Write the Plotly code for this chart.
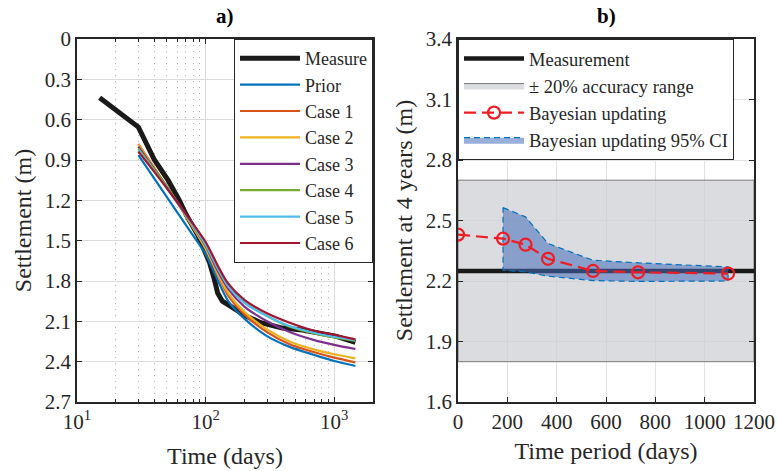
import plotly.graph_objects as go
import numpy as np

# ---------------- Data: panel a) ----------------
meas_t = [15, 30, 40, 51, 62.5, 70, 87, 100, 107, 117, 124, 135, 162, 206, 269, 352, 395, 565, 700, 1023, 1460]
meas_v = [0.437, 0.655, 0.90, 1.05, 1.20, 1.30, 1.46, 1.60, 1.66, 1.79, 1.89, 1.95, 2.00, 2.06, 2.11, 2.14, 2.15, 2.165, 2.18, 2.21, 2.256]

case_t = [30, 50, 75, 100, 125, 150, 200, 300, 450, 700, 1000, 1460]
prior_v = [0.863, 1.176, 1.424, 1.60, 1.80, 1.95, 2.08, 2.21, 2.29, 2.35, 2.395, 2.432]
case1_v = [0.78, 1.10, 1.36, 1.56, 1.76, 1.91, 2.05, 2.18, 2.27, 2.33, 2.37, 2.405]
case2_v = [0.785, 1.10, 1.36, 1.56, 1.75, 1.89, 2.03, 2.16, 2.25, 2.31, 2.345, 2.375]
case3_v = [0.80, 1.10, 1.35, 1.54, 1.73, 1.86, 1.99, 2.10, 2.18, 2.24, 2.275, 2.306]
case4_v = [0.815, 1.10, 1.35, 1.53, 1.71, 1.84, 1.96, 2.06, 2.14, 2.19, 2.22, 2.245]
case5_v = [0.826, 1.11, 1.35, 1.53, 1.71, 1.84, 1.96, 2.06, 2.135, 2.185, 2.215, 2.24]
case6_v = [0.838, 1.11, 1.34, 1.51, 1.69, 1.82, 1.94, 2.04, 2.11, 2.17, 2.20, 2.234]

series_names = ["Prior", "Case 1", "Case 2", "Case 3", "Case 4", "Case 5", "Case 6"]
series_vals = [prior_v, case1_v, case2_v, case3_v, case4_v, case5_v, case6_v]
series_colors = ["#0072BD", "#D95319", "#EDB120", "#7E2F8E", "#77AC30", "#4DBEEE", "#A2142F"]

a_xticks = [10, 100, 1000]
a_xticktext = ["10<sup>1</sup>", "10<sup>2</sup>", "10<sup>3</sup>"]
a_minor = [20, 30, 40, 50, 60, 70, 80, 90, 200, 300, 400, 500, 600, 700, 800, 900]

# ---------------- Data: panel b) ----------------
period = [0, 182.5, 273.75, 365, 547.5, 730, 1095]
bayes_v = [2.43, 2.41, 2.38, 2.31, 2.25, 2.243, 2.237]
ci_t = [182.5, 273.75, 365, 547.5, 730, 1095]
ci_upper = [2.564, 2.518, 2.386, 2.303, 2.29, 2.27]
ci_lower = [2.253, 2.245, 2.224, 2.202, 2.198, 2.20]
measured_4yr = 2.25
accuracy = 0.20
b_xrange = [0, 1200]

FONT = "Liberation Serif"
TXT = "#262626"

fig = go.Figure()

# panel a traces
fig.add_trace(go.Scatter(x=meas_t, y=meas_v, mode="lines", name="Measure",
                         line=dict(color="#1a1a1a", width=5), xaxis="x", yaxis="y", legend="legend"))
for nm, vals, col in zip(series_names, series_vals, series_colors):
    fig.add_trace(go.Scatter(x=case_t, y=vals, mode="lines", name=nm,
                             line=dict(color=col, width=2.2, shape="spline", smoothing=0.8),
                             xaxis="x", yaxis="y", legend="legend"))

# panel b traces
lo = measured_4yr * (1 - accuracy)
hi = measured_4yr * (1 + accuracy)
fig.add_trace(go.Scatter(x=[b_xrange[0], b_xrange[1], b_xrange[1], b_xrange[0], b_xrange[0]],
                         y=[lo, lo, hi, hi, lo], mode="lines", fill="toself",
                         fillcolor="rgba(205,207,211,0.72)", line=dict(color="#7a7a7a", width=1),
                         name="\u00b1 20% accuracy range", xaxis="x2", yaxis="y2",
                         legend="legend2", legendrank=2))
fig.add_trace(go.Scatter(x=b_xrange, y=[measured_4yr, measured_4yr], mode="lines",
                         line=dict(color="#1a1a1a", width=4.5), name="Measurement",
                         xaxis="x2", yaxis="y2", legend="legend2", legendrank=1))
fig.add_trace(go.Scatter(x=ci_t + ci_t[::-1] + [ci_t[0]], y=ci_upper + ci_lower[::-1] + [ci_upper[0]],
                         mode="lines", fill="toself", fillcolor="rgba(70,110,185,0.55)",
                         line=dict(color="#0072BD", width=1.2, dash="6px,4px"),
                         name="Bayesian updating 95% CI", xaxis="x2", yaxis="y2",
                         legend="legend2", legendrank=4))
fig.add_trace(go.Scatter(x=period, y=bayes_v, mode="lines+markers",
                         line=dict(color="#EE1C25", width=2.2, dash="12px,6px"),
                         marker=dict(symbol="circle-open", size=12, color="#EE1C25", line=dict(width=2.2)),
                         name="Bayesian updating", xaxis="x2", yaxis="y2",
                         legend="legend2", legendrank=3))

axcommon = dict(showline=True, linecolor=TXT, linewidth=1.5, mirror="ticks", ticks="inside",
                ticklen=5, tickcolor=TXT, tickwidth=1.2, automargin=False,
                tickfont=dict(family=FONT, size=21, color=TXT), zeroline=False)
TITLEFONT = dict(family=FONT, size=24, color=TXT)

fig.update_layout(
    width=777, height=471, margin=dict(l=0, r=0, t=0, b=0, autoexpand=False),
    paper_bgcolor="white", plot_bgcolor="white",
    font=dict(family=FONT, color=TXT),
    xaxis=dict(domain=[77/777, 373/777], type="log", range=[1, np.log10(2000)],
               tickmode="array", tickvals=a_xticks, ticktext=a_xticktext,
               showgrid=True, gridcolor="#DCDCDC", gridwidth=1,
               minor=dict(tickmode="array", tickvals=a_minor, ticks="inside", ticklen=3,
                          tickcolor=TXT, showgrid=True, gridcolor="#B5B5B5", griddash="1px,5px", gridwidth=1),
               title=dict(text="Time (days)", font=TITLEFONT, standoff=14),
               anchor="y", **axcommon),
    yaxis=dict(domain=[1-402/471, 1-39/471], range=[2.7, 0], tick0=0, dtick=0.3,
               showgrid=True, gridcolor="#DCDCDC", gridwidth=1,
               title=dict(text="Settlement (m)", font=TITLEFONT, standoff=6),
               anchor="x", **axcommon),
    xaxis2=dict(domain=[458/777, 754/777], range=b_xrange, tick0=0, dtick=200,
                showgrid=True, gridcolor="#E2E2E2", gridwidth=1,
                title=dict(text="Time period (days)", font=TITLEFONT, standoff=9),
                anchor="y2", **axcommon),
    yaxis2=dict(domain=[1-402/471, 1-39/471], range=[1.6, 3.4], tick0=1.6, dtick=0.3,
                showgrid=True, gridcolor="#E2E2E2", gridwidth=1,
                title=dict(text="Settlement at 4 years (m)", font=TITLEFONT, standoff=6),
                anchor="x2", **axcommon),
    legend=dict(x=373/777, xanchor="right", y=1-39/471, yanchor="top",
                bgcolor="white", bordercolor=TXT, borderwidth=1, itemwidth=60,
                font=dict(family=FONT, size=18, color=TXT), tracegroupgap=0),
    legend2=dict(x=458/777, xanchor="left", y=1-39/471, yanchor="top",
                 bgcolor="white", bordercolor=TXT, borderwidth=1, itemwidth=60,
                 font=dict(family=FONT, size=18.5, color=TXT), tracegroupgap=0),
    annotations=[
        dict(text="<b>a)</b>", x=(77+373)/2/777, y=1-16/471, xref="paper", yref="paper",
             xanchor="center", yanchor="middle",
             showarrow=False, font=dict(family=FONT, size=21, color="black")),
        dict(text="<b>b)</b>", x=(458+754)/2/777, y=1-16/471, xref="paper", yref="paper",
             xanchor="center", yanchor="middle",
             showarrow=False, font=dict(family=FONT, size=21, color="black")),
    ],
)

fig.write_html("out.html", config={"displayModeBar": False},
               post_script="document.body.style.margin='0';")
